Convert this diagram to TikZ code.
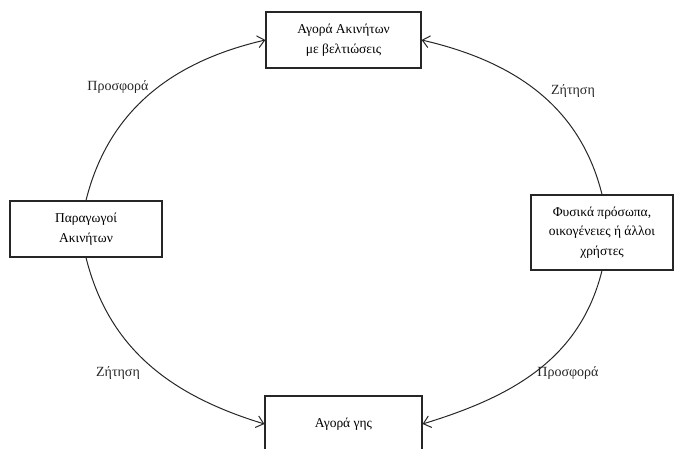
\documentclass[tikz,border=0pt]{standalone}
\usepackage{fontspec}
\setmainfont{Liberation Serif}
\usetikzlibrary{arrows.meta}

\begin{document}
\begin{tikzpicture}[x=1pt, y=1pt]
\tikzstyle{box}=[rectangle, draw=black!85, line width=1.2pt, align=center, font=\fontsize{13.5}{19.5}\selectfont]
\tikzstyle{connect}=[-{Straight Barb[length=7pt, width=12pt]}, line width=1pt, draw=black!85]
\tikzstyle{flow}=[font=\fontsize{14}{16}\selectfont, text=black!85]

\useasboundingbox (0,0) rectangle (674,449);

% 1. Nodes
%%%%%%%%%%
\node[box, minimum width=155pt, minimum height=56pt] (improved) at (343.5,409) {Αγορά Ακινήτων\\με βελτιώσεις};
\node[box, minimum width=157pt, minimum height=56pt] (land) at (343.5,25) {Αγορά γης};
\node[box, minimum width=152pt, minimum height=56pt] (producers) at (86,220) {Παραγωγοί\\Ακινήτων};
\node[box, minimum width=142pt, minimum height=75pt] (users) at (602,216.5) {Φυσικά πρόσωπα,\\οικογένειες ή άλλοι\\χρήστες};

% 2. Labels
%%%%%%%%%%%
\node[flow] (supplytop) at (118,362) {Προσφορά};
\node[flow] (demandtop) at (573,358) {Ζήτηση};
\node[flow] (demandbot) at (118,76) {Ζήτηση};
\node[flow] (supplybot) at (568,76) {Προσφορά};

% 3. Arrows
%%%%%%%%%%%
\path (producers.north) edge [connect, out=76, in=193] (improved.west)
      (users.north)     edge [connect, out=104, in=-13] (improved.east)
      (producers.south) edge [connect, out=-76, in=163] (land.west)
      (users.south)     edge [connect, out=-104, in=17] (land.east);

\end{tikzpicture}
\end{document}
